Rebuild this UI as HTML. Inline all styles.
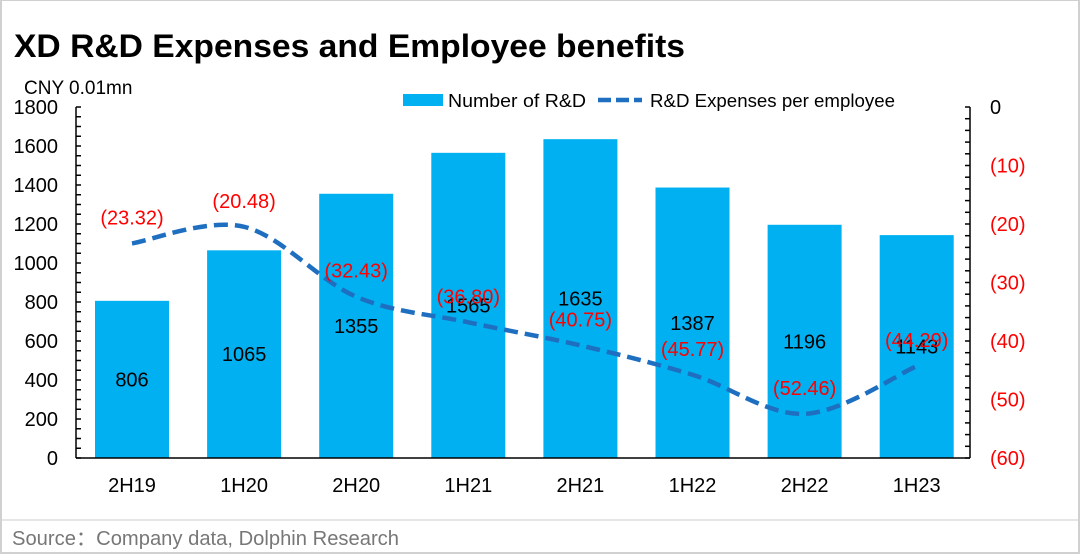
<!DOCTYPE html>
<html><head><meta charset="utf-8"><style>
body{margin:0;background:#fff;}
svg{display:block;font-family:"Liberation Sans","Noto Sans CJK SC",sans-serif;}
</style></head><body>
<svg width="1080" height="555" viewBox="0 0 1080 555">
<rect x="1" y="0" width="1078" height="553" fill="#fff" stroke="#d0d0d0" stroke-width="2"/>
<text x="14" y="57" font-size="32" font-weight="bold" fill="#000" textLength="671" lengthAdjust="spacingAndGlyphs">XD R&amp;D Expenses and Employee benefits</text>
<text x="24" y="94" font-size="19" fill="#000">CNY 0.01mn</text>
<g id="bars" fill="#00b0f0"></g>
<g id="ax" stroke="#000" stroke-width="1.5" fill="none"></g>
<g id="lbl" font-size="20" fill="#000"></g>
<path id="line" fill="none" stroke="#1f6fc0" stroke-width="4.5" stroke-dasharray="14,7"/>
<g id="rl" font-size="20" fill="#ff0000" text-anchor="middle"></g>
<rect x="403" y="94" width="40" height="12" fill="#00b0f0"/>
<text x="448" y="107" font-size="18" textLength="138" lengthAdjust="spacingAndGlyphs">Number of R&amp;D</text>
<line x1="598" y1="100" x2="642" y2="100" stroke="#1f6fc0" stroke-width="4.5" stroke-dasharray="13,5"/>
<text x="650" y="107" font-size="18" textLength="245" lengthAdjust="spacingAndGlyphs">R&amp;D Expenses per employee</text>
<line x1="2" y1="520" x2="1078" y2="520" stroke="#ccc" stroke-width="1"/>
<text x="12" y="545" font-size="20" fill="#777" textLength="387" lengthAdjust="spacingAndGlyphs">Source：Company data, Dolphin Research</text>
</svg>
<script>
var ns="http://www.w3.org/2000/svg";
function el(p,t,a,txt){var e=document.createElementNS(ns,t);for(var k in a)e.setAttribute(k,a[k]);if(txt!=null)e.textContent=txt;document.getElementById(p).appendChild(e);return e;}
var cats=["2H19","1H20","2H20","1H21","2H21","1H22","2H22","1H23"];
var bars=[806,1065,1355,1565,1635,1387,1196,1143];
var ln=[23.32,20.48,32.43,36.80,40.75,45.77,52.46,44.29];
function yl(v){return 458-v*0.195;}
function yr(v){return 107+v*5.85;}
var pts=[];
for(var i=0;i<8;i++){
 var cx=132+i*112.1;
 el("bars","rect",{x:cx-37,y:yl(bars[i]),width:74,height:458-yl(bars[i])});
 el("lbl","text",{x:cx,y:(yl(bars[i])+458)/2+7,"text-anchor":"middle"},bars[i]);
 el("lbl","text",{x:cx,y:492,"text-anchor":"middle"},cats[i]);
 pts.push([cx,yr(ln[i])]);
}
el("ax","line",{x1:76,y1:107,x2:76,y2:458});
el("ax","line",{x1:76,y1:458,x2:970,y2:458});
el("ax","line",{x1:970,y1:107,x2:970,y2:458});
for(var v=0;v<=1800;v+=50){el("ax","line",{x1:76,y1:yl(v),x2:81,y2:yl(v)});}
for(var v=0;v<=1800;v+=200){el("lbl","text",{x:58,y:yl(v)+7,"text-anchor":"end"},v);}
for(var v=0;v<=60;v+=2){el("ax","line",{x1:965,y1:yr(v),x2:970,y2:yr(v)});}
for(var v=0;v<=60;v+=10){el(v?"rl":"lbl","text",{x:990,y:yr(v)+7,"text-anchor":"start","fill":v?"#ff0000":"#000"},v?"("+v+")":"0");}
var d="M"+pts[0][0]+","+pts[0][1];
for(var i=0;i<7;i++){
 var p0=pts[Math.max(i-1,0)],p1=pts[i],p2=pts[i+1],p3=pts[Math.min(i+2,7)];
 var c1=[p1[0]+(p2[0]-p0[0])/6,p1[1]+(p2[1]-p0[1])/6];
 var c2=[p2[0]-(p3[0]-p1[0])/6,p2[1]-(p3[1]-p1[1])/6];
 d+=" C"+c1+" "+c2+" "+p2;
}
document.getElementById("line").setAttribute("d",d);
for(var i=0;i<8;i++){el("rl","text",{x:pts[i][0],y:pts[i][1]-19},"("+ln[i].toFixed(2)+")");}
</script>
</body></html>
